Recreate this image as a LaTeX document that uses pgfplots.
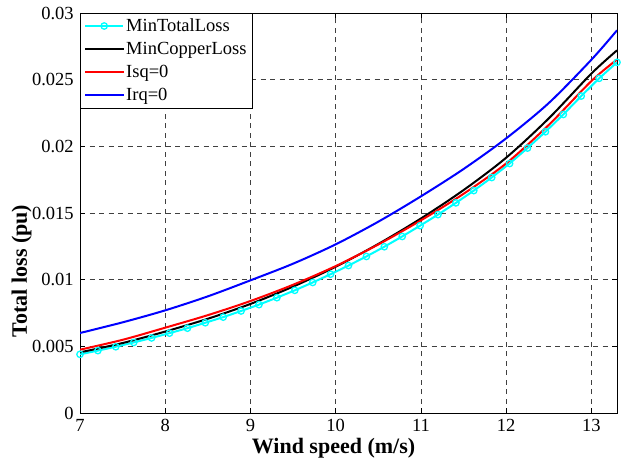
\documentclass[border=0pt]{standalone}
\usepackage{fontspec}
\setmainfont{Liberation Serif}
\usepackage{pgfplots}
\usepackage{pgfplotstable}
\pgfplotsset{compat=1.18}
\usetikzlibrary{calc}
\definecolor{mcyan}{rgb}{0,1,1}
\definecolor{mred}{rgb}{1,0,0}
\definecolor{mblue}{rgb}{0,0,1}

\pgfplotstableread{
x y
7.00 0.00440
7.21 0.00468
7.42 0.00497
7.63 0.00529
7.84 0.00563
8.05 0.00599
8.26 0.00636
8.47 0.00677
8.68 0.00719
8.89 0.00765
9.10 0.00813
9.31 0.00865
9.52 0.00920
9.73 0.00979
9.94 0.01041
10.15 0.01106
10.36 0.01174
10.57 0.01247
10.78 0.01324
10.99 0.01405
11.20 0.01488
11.41 0.01576
11.62 0.01668
11.83 0.01766
12.04 0.01871
12.25 0.01987
12.46 0.02109
12.67 0.02239
12.88 0.02377
13.09 0.02510
13.30 0.02630
}\mintotal

\pgfplotstableread{
x y
7.0 0.00455
7.5 0.00525
8.0 0.00611
8.5 0.00707
9.0 0.00818
9.5 0.00948
10.0 0.01097
10.5 0.01268
11.0 0.01459
11.5 0.01672
12.0 0.01915
12.5 0.02210
13.0 0.02546
13.3 0.02720
}\mincopper

\pgfplotstableread{
x y
7.0 0.00475
7.5 0.00549
8.0 0.00640
8.5 0.00734
9.0 0.00840
9.5 0.00962
10.0 0.01102
10.5 0.01264
11.0 0.01445
11.5 0.01644
12.0 0.01872
12.5 0.02161
13.0 0.02490
13.3 0.02651
}\isq

\pgfplotstableread{
x y
7.0 0.00600
7.5 0.00680
8.0 0.00770
8.5 0.00875
9.0 0.00995
9.5 0.01120
10.0 0.01265
10.5 0.01435
11.0 0.01625
11.5 0.01830
12.0 0.02060
12.5 0.02325
13.0 0.02650
13.3 0.02870
}\irq

\begin{document}
\fontsize{18.5}{22}\selectfont
\begin{tikzpicture}
\begin{axis}[
  scale only axis,
  width=537pt, height=400pt,
  xmin=7, xmax=13.3, ymin=0, ymax=0.03,
  xtick={7,8,9,10,11,12,13},
  ytick={0,0.005,0.01,0.015,0.02,0.025,0.03},
  scaled y ticks=false,
  yticklabel style={/pgf/number format/fixed,/pgf/number format/precision=3},
  /pgf/number format/assume math mode=true,
  ticklabel style={font=\fontsize{18.5}{22}\selectfont},
  tick align=inside,
  major tick length=5pt,
  tick style={black, line width=0.6pt},
  axis line style={black, line width=0.9pt},
  grid=major,
  major grid style={black!75, dash pattern=on 5pt off 4.5pt, line width=0.6pt},
  xlabel={Wind speed (m/s)},
  ylabel={Total loss (pu)},
  label style={font=\bfseries\fontsize{22}{26}\selectfont},
  xlabel style={yshift=6pt, xshift=-15pt},
  ylabel style={yshift=-12pt, xshift=-58pt},
  legend style={at={(0,1)}, anchor=north west, draw=black,
    fill=white, font=\fontsize{18.5}{22}\selectfont, inner xsep=4pt, inner ysep=3pt,
    row sep=4pt, cells={anchor=west}},
  legend cell align=left,
  legend image code/.code={\draw[mark repeat=2,mark phase=2,#1] plot coordinates {(0pt,0pt) (19pt,0pt) (38pt,0pt)};},
]
\addplot[color=mcyan, line width=2pt, mark=o, mark size=3.2pt, mark options={line width=1.3pt}] table[x=x,y=y] {\mintotal};
\addlegendentry{MinTotalLoss}
\addplot[color=black, line width=2pt, smooth] table[x=x,y=y] {\mincopper};
\addlegendentry{MinCopperLoss}
\addplot[color=mred, line width=2pt, smooth] table[x=x,y=y] {\isq};
\addlegendentry{Isq=0}
\addplot[color=mblue, line width=2pt, smooth] table[x=x,y=y] {\irq};
\addlegendentry{Irq=0}
\coordinate (sw) at (rel axis cs:0,0);
\coordinate (ne) at (rel axis cs:1,1);
\end{axis}
\pgfresetboundingbox
\path[use as bounding box] ($(sw)+(-80pt,-48pt)$) rectangle ($(ne)+(4pt,13pt)$);
\end{tikzpicture}
\end{document}
